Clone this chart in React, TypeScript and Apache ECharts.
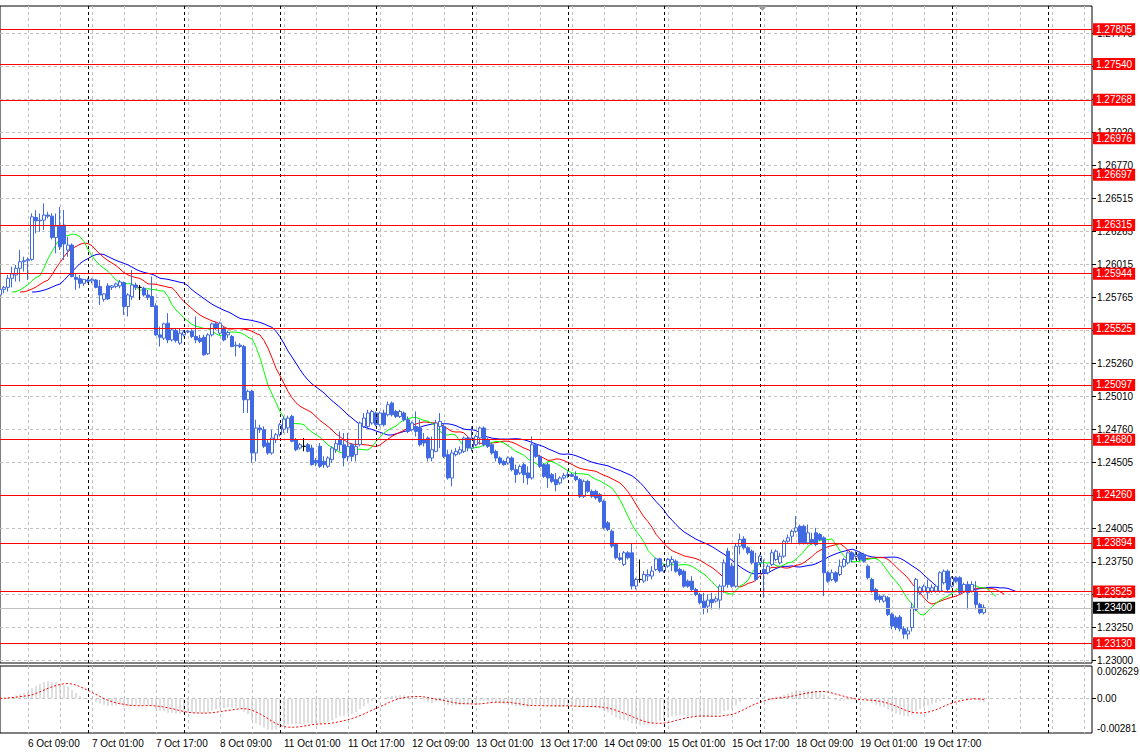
import React, { useEffect, useRef } from "react";
import * as echarts from "echarts";

// ---- time axis ----
const tradingDays = ["6 Oct", "7 Oct", "8 Oct", "11 Oct", "12 Oct", "13 Oct", "14 Oct", "15 Oct", "18 Oct", "19 Oct", "20 Oct", "21 Oct"];
const firstHour = 2;
const slotCount = 274;

// ---- H1 candles (open, high, low, close) ----
const open = [
  1.25782, 1.25825, 1.25840, 1.25909, 1.25934, 1.25985, 1.26035, 1.26043, 1.26053, 1.26372,
  1.26347, 1.26352, 1.26390, 1.26382, 1.26220, 1.26306, 1.26314, 1.26124, 1.26162, 1.25916,
  1.25906, 1.25871, 1.25896, 1.25889, 1.25896, 1.25846, 1.25749, 1.25851, 1.25840, 1.25846,
  1.25851, 1.25876, 1.25694, 1.25769, 1.25858, 1.25840, 1.25833, 1.25782, 1.25770, 1.25699,
  1.25478, 1.25453, 1.25567, 1.25440, 1.25511, 1.25415, 1.25478, 1.25501, 1.25506, 1.25466,
  1.25453, 1.25460, 1.25334, 1.25478, 1.25562, 1.25491, 1.25529, 1.25478, 1.25466, 1.25395,
  1.25400, 1.25389, 1.24984, 1.25048, 1.24579, 1.24769, 1.24756, 1.24655, 1.24579, 1.24680,
  1.24718, 1.24760, 1.24770, 1.24858, 1.24680, 1.24617, 1.24630, 1.24642, 1.24617, 1.24523,
  1.24630, 1.24516, 1.24478, 1.24528, 1.24604, 1.24680, 1.24642, 1.24553, 1.24642, 1.24566,
  1.24642, 1.24781, 1.24781, 1.24807, 1.24883, 1.24794, 1.24883, 1.24870, 1.24959, 1.24895,
  1.24857, 1.24883, 1.24832, 1.24756, 1.24781, 1.24769, 1.24680, 1.24693, 1.24541, 1.24591,
  1.24781, 1.24781, 1.24566, 1.24389, 1.24566, 1.24579, 1.24591, 1.24693, 1.24617, 1.24642,
  1.24693, 1.24769, 1.24680, 1.24642, 1.24591, 1.24541, 1.24515, 1.24503, 1.24541, 1.24452,
  1.24427, 1.24490, 1.24427, 1.24389, 1.24642, 1.24553, 1.24490, 1.24490, 1.24414, 1.24376,
  1.24351, 1.24389, 1.24407, 1.24414, 1.24401, 1.24376, 1.24249, 1.24363, 1.24287, 1.24287,
  1.24262, 1.24211, 1.24047, 1.23984, 1.23882, 1.23781, 1.23730, 1.23819, 1.23819, 1.23566,
  1.23616, 1.23604, 1.23642, 1.23642, 1.23692, 1.23773, 1.23680, 1.23718, 1.23743, 1.23755,
  1.23692, 1.23679, 1.23603, 1.23603, 1.23540, 1.23502, 1.23451, 1.23413, 1.23464, 1.23451,
  1.23459, 1.23565, 1.23831, 1.23717, 1.23565, 1.23869, 1.23925, 1.23857, 1.23831, 1.23743,
  1.23743, 1.23692, 1.23667, 1.23730, 1.23768, 1.23743, 1.23793, 1.23907, 1.23945, 1.23983,
  1.24021, 1.24021, 1.23895, 1.23920, 1.23971, 1.23958, 1.23933, 1.23667, 1.23616, 1.23667,
  1.23654, 1.23717, 1.23743, 1.23819, 1.23793, 1.23814, 1.23806, 1.23717, 1.23616, 1.23540,
  1.23489, 1.23451, 1.23477, 1.23350, 1.23325, 1.23330, 1.23240, 1.23200, 1.23250, 1.23388,
  1.23515, 1.23527, 1.23515, 1.23527, 1.23527, 1.23527, 1.23591, 1.23679, 1.23565, 1.23629,
  1.23629, 1.23527, 1.23578, 1.23527, 1.23527, 1.23426, 1.23363,
];
const high = [
  1.25851, 1.25851, 1.25934, 1.25997, 1.26010, 1.26124, 1.26073, 1.26068, 1.26403, 1.26428,
  1.26403, 1.26479, 1.26415, 1.26403, 1.26403, 1.26453, 1.26428, 1.26225, 1.26175, 1.25947,
  1.25934, 1.25901, 1.25909, 1.25909, 1.25904, 1.25896, 1.25795, 1.25871, 1.25858, 1.25876,
  1.25896, 1.25884, 1.25795, 1.25972, 1.25876, 1.25858, 1.25846, 1.25820, 1.25922, 1.25719,
  1.25541, 1.25572, 1.25643, 1.25529, 1.25529, 1.25529, 1.25516, 1.25516, 1.25521, 1.25618,
  1.25478, 1.25478, 1.25491, 1.25572, 1.25579, 1.25579, 1.25547, 1.25511, 1.25478, 1.25428,
  1.25415, 1.25402, 1.25060, 1.25060, 1.24832, 1.24794, 1.24782, 1.24680, 1.24756, 1.24731,
  1.24807, 1.24858, 1.24863, 1.24870, 1.24693, 1.24655, 1.24693, 1.24655, 1.24642, 1.24541,
  1.24655, 1.24554, 1.24554, 1.24630, 1.24680, 1.24743, 1.24731, 1.24731, 1.24655, 1.24680,
  1.24819, 1.24883, 1.24908, 1.24908, 1.24895, 1.24895, 1.24908, 1.24971, 1.24971, 1.24908,
  1.24908, 1.24895, 1.24857, 1.24819, 1.24895, 1.24832, 1.24731, 1.24705, 1.24705, 1.24832,
  1.24883, 1.24807, 1.24604, 1.24604, 1.24617, 1.24629, 1.24705, 1.24705, 1.24781, 1.24718,
  1.24781, 1.24781, 1.24693, 1.24655, 1.24604, 1.24553, 1.24528, 1.24553, 1.24553, 1.24490,
  1.24490, 1.24503, 1.24477, 1.24705, 1.24655, 1.24566, 1.24503, 1.24503, 1.24427, 1.24427,
  1.24401, 1.24427, 1.24439, 1.24427, 1.24439, 1.24389, 1.24376, 1.24376, 1.24300, 1.24300,
  1.24275, 1.24224, 1.24060, 1.23996, 1.23895, 1.23819, 1.23832, 1.23832, 1.23895, 1.23629,
  1.23768, 1.23680, 1.23692, 1.23718, 1.23781, 1.23781, 1.23730, 1.23781, 1.23793, 1.23768,
  1.23705, 1.23692, 1.23616, 1.23641, 1.23553, 1.23515, 1.23515, 1.23502, 1.23515, 1.23489,
  1.23578, 1.23768, 1.23857, 1.23743, 1.23895, 1.23966, 1.23945, 1.23869, 1.23844, 1.23819,
  1.23806, 1.23768, 1.23730, 1.23844, 1.23844, 1.23819, 1.23920, 1.23958, 1.23996, 1.24097,
  1.24034, 1.24034, 1.24034, 1.23971, 1.24009, 1.23971, 1.23945, 1.23679, 1.23692, 1.23679,
  1.23768, 1.23781, 1.23831, 1.23831, 1.23831, 1.23831, 1.23819, 1.23730, 1.23629, 1.23553,
  1.23502, 1.23495, 1.23489, 1.23363, 1.23340, 1.23345, 1.23260, 1.23250, 1.23440, 1.23629,
  1.23565, 1.23578, 1.23616, 1.23578, 1.23578, 1.23679, 1.23692, 1.23692, 1.23641, 1.23641,
  1.23641, 1.23591, 1.23603, 1.23603, 1.23603, 1.23439, 1.23426,
];
const low = [
  1.25757, 1.25795, 1.25808, 1.25840, 1.25884, 1.25884, 1.25960, 1.25896, 1.26043, 1.26251,
  1.26263, 1.26276, 1.26365, 1.26205, 1.26099, 1.26124, 1.26048, 1.26073, 1.25916, 1.25821,
  1.25833, 1.25851, 1.25871, 1.25871, 1.25833, 1.25706, 1.25731, 1.25744, 1.25820, 1.25833,
  1.25833, 1.25630, 1.25618, 1.25744, 1.25820, 1.25744, 1.25770, 1.25744, 1.25690, 1.25471,
  1.25389, 1.25440, 1.25415, 1.25428, 1.25420, 1.25402, 1.25466, 1.25491, 1.25453, 1.25415,
  1.25415, 1.25319, 1.25326, 1.25466, 1.25516, 1.25478, 1.25428, 1.25453, 1.25384, 1.25314,
  1.25377, 1.24883, 1.24883, 1.24503, 1.24516, 1.24731, 1.24617, 1.24566, 1.24566, 1.24655,
  1.24705, 1.24731, 1.24731, 1.24660, 1.24592, 1.24604, 1.24592, 1.24584, 1.24483, 1.24478,
  1.24465, 1.24465, 1.24465, 1.24503, 1.24579, 1.24591, 1.24477, 1.24515, 1.24515, 1.24515,
  1.24629, 1.24769, 1.24769, 1.24794, 1.24781, 1.24781, 1.24781, 1.24857, 1.24857, 1.24845,
  1.24845, 1.24819, 1.24731, 1.24743, 1.24705, 1.24629, 1.24629, 1.24515, 1.24515, 1.24585,
  1.24617, 1.24541, 1.24376, 1.24325, 1.24553, 1.24566, 1.24579, 1.24591, 1.24591, 1.24629,
  1.24642, 1.24629, 1.24617, 1.24566, 1.24515, 1.24490, 1.24482, 1.24490, 1.24439, 1.24351,
  1.24414, 1.24351, 1.24338, 1.24376, 1.24541, 1.24465, 1.24389, 1.24313, 1.24351, 1.24287,
  1.24338, 1.24376, 1.24389, 1.24396, 1.24363, 1.24237, 1.24237, 1.24275, 1.24237, 1.24224,
  1.24199, 1.23996, 1.23984, 1.23857, 1.23768, 1.23756, 1.23718, 1.23768, 1.23540, 1.23540,
  1.23591, 1.23591, 1.23604, 1.23616, 1.23680, 1.23667, 1.23667, 1.23705, 1.23679, 1.23667,
  1.23641, 1.23553, 1.23553, 1.23527, 1.23489, 1.23426, 1.23350, 1.23363, 1.23388, 1.23439,
  1.23388, 1.23515, 1.23553, 1.23553, 1.23553, 1.23806, 1.23844, 1.23806, 1.23730, 1.23603,
  1.23730, 1.23477, 1.23654, 1.23717, 1.23755, 1.23730, 1.23781, 1.23895, 1.23895, 1.23971,
  1.23882, 1.23882, 1.23882, 1.23882, 1.23869, 1.23907, 1.23489, 1.23591, 1.23603, 1.23591,
  1.23641, 1.23705, 1.23730, 1.23743, 1.23768, 1.23755, 1.23743, 1.23616, 1.23515, 1.23451,
  1.23439, 1.23439, 1.23337, 1.23237, 1.23230, 1.23220, 1.23165, 1.23160, 1.23220, 1.23375,
  1.23502, 1.23515, 1.23464, 1.23515, 1.23515, 1.23515, 1.23578, 1.23527, 1.23553, 1.23591,
  1.23502, 1.23515, 1.23388, 1.23515, 1.23388, 1.23350, 1.23350,
];
const close = [
  1.25825, 1.25840, 1.25909, 1.25942, 1.25985, 1.26035, 1.26043, 1.26053, 1.26377, 1.26347,
  1.26352, 1.26390, 1.26382, 1.26220, 1.26306, 1.26149, 1.26170, 1.26162, 1.25922, 1.25901,
  1.25871, 1.25901, 1.25886, 1.25901, 1.25840, 1.25782, 1.25790, 1.25752, 1.25851, 1.25866,
  1.25881, 1.25694, 1.25782, 1.25858, 1.25840, 1.25840, 1.25782, 1.25764, 1.25694, 1.25478,
  1.25460, 1.25562, 1.25440, 1.25516, 1.25435, 1.25491, 1.25501, 1.25506, 1.25466, 1.25440,
  1.25428, 1.25326, 1.25478, 1.25562, 1.25529, 1.25567, 1.25440, 1.25496, 1.25389, 1.25400,
  1.25389, 1.24984, 1.25048, 1.24579, 1.24769, 1.24756, 1.24630, 1.24579, 1.24693, 1.24718,
  1.24794, 1.24837, 1.24845, 1.24668, 1.24604, 1.24642, 1.24630, 1.24592, 1.24490, 1.24503,
  1.24478, 1.24490, 1.24541, 1.24617, 1.24650, 1.24642, 1.24541, 1.24629, 1.24553, 1.24629,
  1.24807, 1.24845, 1.24883, 1.24895, 1.24794, 1.24883, 1.24794, 1.24946, 1.24870, 1.24857,
  1.24895, 1.24832, 1.24743, 1.24807, 1.24743, 1.24642, 1.24655, 1.24541, 1.24604, 1.24807,
  1.24819, 1.24553, 1.24389, 1.24579, 1.24591, 1.24604, 1.24693, 1.24617, 1.24693, 1.24705,
  1.24769, 1.24642, 1.24629, 1.24579, 1.24541, 1.24503, 1.24490, 1.24541, 1.24452, 1.24414,
  1.24477, 1.24414, 1.24389, 1.24642, 1.24553, 1.24477, 1.24401, 1.24389, 1.24363, 1.24338,
  1.24389, 1.24407, 1.24414, 1.24401, 1.24376, 1.24249, 1.24363, 1.24287, 1.24249, 1.24237,
  1.24211, 1.24009, 1.23996, 1.23870, 1.23781, 1.23768, 1.23819, 1.23781, 1.23566, 1.23616,
  1.23616, 1.23654, 1.23654, 1.23680, 1.23773, 1.23680, 1.23718, 1.23768, 1.23768, 1.23679,
  1.23654, 1.23565, 1.23565, 1.23540, 1.23502, 1.23439, 1.23401, 1.23459, 1.23439, 1.23469,
  1.23565, 1.23743, 1.23578, 1.23565, 1.23869, 1.23920, 1.23857, 1.23819, 1.23743, 1.23616,
  1.23793, 1.23667, 1.23717, 1.23819, 1.23831, 1.23793, 1.23907, 1.23933, 1.23983, 1.24009,
  1.23895, 1.23895, 1.23971, 1.23895, 1.23882, 1.23920, 1.23667, 1.23603, 1.23667, 1.23603,
  1.23717, 1.23768, 1.23819, 1.23768, 1.23806, 1.23768, 1.23755, 1.23629, 1.23527, 1.23464,
  1.23464, 1.23489, 1.23350, 1.23262, 1.23250, 1.23240, 1.23200, 1.23225, 1.23400, 1.23616,
  1.23553, 1.23565, 1.23553, 1.23553, 1.23565, 1.23667, 1.23679, 1.23540, 1.23629, 1.23603,
  1.23515, 1.23578, 1.23515, 1.23578, 1.23426, 1.23363, 1.23401,
];

// ---- horizontal levels, bid, tick labels ----
const levels = [1.27805, 1.2754, 1.27268, 1.26976, 1.26697, 1.26315, 1.25944, 1.25525, 1.25097, 1.2468, 1.2426, 1.23894, 1.23525, 1.2313];
const bidPrice = 1.234;
const priceTicks = [1.27775, 1.2752, 1.2727, 1.2702, 1.2677, 1.26515, 1.26265, 1.26015, 1.25765, 1.2551, 1.2526, 1.2501, 1.2476, 1.24505, 1.24255, 1.24005, 1.2375, 1.235, 1.2325, 1.23];
const priceLabels = [1.27775, 1.2752, 1.2702, 1.2677, 1.26515, 1.26265, 1.26015, 1.25765, 1.2551, 1.2526, 1.2501, 1.2476, 1.24505, 1.24005, 1.2375, 1.235, 1.2325, 1.23];
const priceMin = 1.2298;
const priceMax = 1.27982;
const oscMin = -0.00281;
const oscMax = 0.002629;
const oscTickLabels: Record<string, string> = { max: "0.002629", zero: "0.00", min: "-0.00281" };

// Alligator (jaw 13/8, teeth 8/5, lips 5/3) and MACD(12,26,9)
const jawParams = [13, 8];
const teethParams = [8, 5];
const lipsParams = [5, 3];
const macdParams = [12, 26, 9];

const FONT = "'Liberation Sans', Arial, sans-serif";

function buildCategories(): string[] {
  const out: string[] = [];
  for (let d = 0; d < tradingDays.length && out.length < slotCount; d++) {
    for (let h = d === 0 ? firstHour : 0; h < 24 && out.length < slotCount; h++) {
      out.push(`${tradingDays[d]} ${String(h).padStart(2, "0")}:00`);
    }
  }
  return out;
}

function smma(src: number[], n: number): number[] {
  const out: number[] = [];
  src.forEach((v, i) => out.push(i === 0 ? v : (out[i - 1] * (n - 1) + v) / n));
  return out;
}
function shifted(vals: number[], shift: number): (number | null)[] {
  const arr: (number | null)[] = new Array(slotCount).fill(null);
  vals.forEach((v, i) => {
    if (i + shift < slotCount) arr[i + shift] = v;
  });
  return arr;
}
function ema(src: number[], n: number): number[] {
  const a = 2 / (n + 1);
  const out: number[] = [];
  src.forEach((v, i) => out.push(i === 0 ? v : out[i - 1] + a * (v - out[i - 1])));
  return out;
}
function sma(src: number[], n: number): number[] {
  return src.map((_, i) => {
    const s = Math.max(0, i - n + 1);
    const part = src.slice(s, i + 1);
    return part.reduce((a, b) => a + b, 0) / part.length;
  });
}

export default function App() {
  const ref = useRef<HTMLDivElement>(null);
  useEffect(() => {
    document.body.style.margin = "0";
    if (!ref.current) return;
    const chart = echarts.init(ref.current, null, { renderer: "svg" });
    const categories = buildCategories();
    const separators = categories.filter((c) => c.endsWith(" 00:00"));
    const n = open.length;

    const candleData = open.map((o, i) => {
      const item: any = { value: [o, close[i], low[i], high[i]] };
      if (o === close[i]) {
        item.itemStyle = { color: "#000", color0: "#000", borderColor: "#000", borderColor0: "#000" };
      }
      return item;
    });

    const median = high.map((h, i) => (h + low[i]) / 2);
    const jaw = shifted(smma(median, jawParams[0]), jawParams[1]);
    const teeth = shifted(smma(median, teethParams[0]), teethParams[1]);
    const lips = shifted(smma(median, lipsParams[0]), lipsParams[1]);

    const e1 = ema(close, macdParams[0]);
    const e2 = ema(close, macdParams[1]);
    const macd = e1.map((v, i) => v - e2[i]);
    const signal = sma(macd, macdParams[2]);

    const gridInterval = (i: number) => i % 8 === 7;
    const labelInterval = (i: number) => i >= 7 && i < n && (i - 7) % 16 === 0;

    const sepLines = separators.map((c) => ({
      xAxis: c,
      lineStyle: { color: "#000", width: 1, type: [3, 3] },
      label: { show: false },
    }));

    const levelLabel = (bg: string) => ({
      show: true,
      position: "end",
      distance: 1,
      formatter: (p: any) => Number(p.value).toFixed(5),
      backgroundColor: bg,
      color: "#fff",
      fontSize: 10,
      fontFamily: FONT,
      lineHeight: 11,
      padding: [1, 3, 0, 3],
    });

    const vSplit = { show: true, interval: gridInterval, lineStyle: { color: "#c0c0c0", width: 1, type: [3, 3] } };

    const option: any = {
      animation: false,
      backgroundColor: "#ffffff",
      textStyle: { fontFamily: FONT },
      grid: [
        { left: 0, top: 6, width: 1092, height: 657, show: true, borderColor: "#000", borderWidth: 1, backgroundColor: "transparent", outerBoundsMode: "none", containLabel: false },
        { left: 0, top: 666, width: 1092, height: 67, show: true, borderColor: "#000", borderWidth: 1, backgroundColor: "transparent", outerBoundsMode: "none", containLabel: false },
      ],
      xAxis: [
        {
          type: "category", gridIndex: 0, data: categories, boundaryGap: false,
          axisLine: { show: false }, axisTick: { show: false }, axisLabel: { show: false },
          splitLine: vSplit,
        },
        {
          type: "category", gridIndex: 1, data: categories, boundaryGap: false,
          axisLine: { show: false }, axisTick: { show: false },
          axisLabel: { show: true, interval: labelInterval, align: "left", margin: 5, fontSize: 10, color: "#000", fontFamily: FONT },
          splitLine: vSplit,
        },
      ],
      yAxis: [
        {
          type: "value", gridIndex: 0, position: "right", min: priceMin, max: priceMax,
          axisLine: { show: false },
          axisTick: { show: true, inside: false, length: 4, customValues: priceTicks, lineStyle: { color: "#000" } },
          axisLabel: { customValues: priceLabels, formatter: (v: number) => v.toFixed(5), fontSize: 10, color: "#000", margin: 5, fontFamily: FONT },
          splitLine: { show: true, lineStyle: { color: "#c0c0c0", width: 1, type: [3, 3] } },
        },
        {
          type: "value", gridIndex: 1, position: "right", min: oscMin, max: oscMax,
          axisLine: { show: false },
          axisTick: { show: true, inside: false, length: 4, customValues: [0], lineStyle: { color: "#000" } },
          axisLabel: {
            customValues: [oscMin, 0, oscMax],
            formatter: (v: number) => (v > 0 ? oscTickLabels.max : v < 0 ? oscTickLabels.min : oscTickLabels.zero),
            fontSize: 10, color: "#000", margin: 5, fontFamily: FONT,
            verticalAlignMinLabel: "bottom", verticalAlignMaxLabel: "top",
          },
          splitLine: { show: true, lineStyle: { color: "#c0c0c0", width: 1, type: [3, 3] } },
        },
      ],
      series: [
        {
          type: "line", xAxisIndex: 0, yAxisIndex: 0, data: jaw, showSymbol: false, silent: true,
          lineStyle: { color: "#0000ff", width: 1 }, z: 3,
        },
        {
          type: "line", xAxisIndex: 0, yAxisIndex: 0, data: teeth, showSymbol: false, silent: true,
          lineStyle: { color: "#ff0000", width: 1 }, z: 3,
        },
        {
          type: "line", xAxisIndex: 0, yAxisIndex: 0, data: lips, showSymbol: false, silent: true,
          lineStyle: { color: "#00ff00", width: 1 }, z: 3,
        },
        {
          type: "candlestick", xAxisIndex: 0, yAxisIndex: 0, data: candleData, barWidth: 3, silent: true, z: 4,
          itemStyle: { color: "#ffffff", color0: "#4169e1", borderColor: "#4169e1", borderColor0: "#4169e1", borderWidth: 1 },
          markLine: {
            silent: true, symbol: ["none", "none"], animation: false, z: 5, precision: 5,
            data: [
              ...sepLines,
              ...levels.map((v) => ({ yAxis: v, lineStyle: { color: "#ff0000", width: 1, type: "solid" }, label: levelLabel("#ff0000") })),
              { yAxis: bidPrice, lineStyle: { color: "#c0c0c0", width: 1, type: "solid" }, label: levelLabel("#000000") },
            ],
          },
        },
        {
          type: "bar", xAxisIndex: 1, yAxisIndex: 1, data: macd, barWidth: 1, silent: true,
          itemStyle: { color: "#c0c0c0" },
          markLine: { silent: true, symbol: ["none", "none"], animation: false, data: sepLines },
        },
        {
          type: "line", xAxisIndex: 1, yAxisIndex: 1, data: signal, showSymbol: false, silent: true,
          lineStyle: { color: "#ff0000", width: 1, type: [2, 2] }, z: 3,
        },
      ],
      graphic: [
        { type: "polygon", shape: { points: [[758, 6], [767, 6], [762.5, 11]] }, style: { fill: "#a0a0a0" }, z: 10 },
      ],
    };
    chart.setOption(option);
    return () => chart.dispose();
  }, []);
  return <div ref={ref} style={{ width: 1140, height: 754 }} />;
}
